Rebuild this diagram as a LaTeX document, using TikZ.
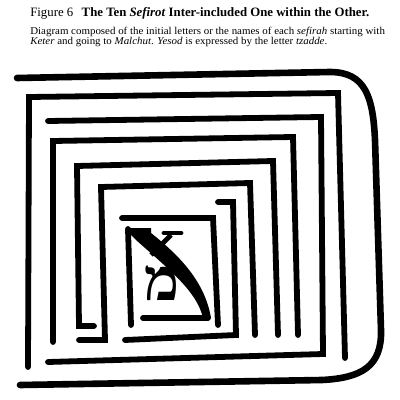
\documentclass[tikz,border=0pt]{standalone}
\usepackage{fontspec}
\setmainfont{Liberation Serif}
\newfontfamily\hebfont[Script=Hebrew]{Liberation Serif}
\tikzset{
  stroke/.style={line width=0.145cm, line cap=round, line join=miter},
  outerstroke/.style={line width=0.165cm, line cap=round, line join=round},
  captext/.style={anchor=base west, inner sep=0pt, font=\fontsize{7.4pt}{8pt}\selectfont},
}
\begin{document}
\begin{tikzpicture}[x=0.025cm,y=-0.025cm]
\useasboundingbox (0,0) rectangle (400,400);
\fill[white] (0,0) rectangle (400,400);

% texts
\node[anchor=base west, inner sep=0pt, font=\fontsize{9.1pt}{10pt}\selectfont] (title) at (30,17)
  {Figure 6\hspace{6pt}\textbf{The Ten \textit{Sefirot} Inter-included One within the Other.}};
\node[captext] (cap1) at (30,35)
  {\scalebox{1.05}[1]{Diagram composed of the initial letters or the names of each \textit{sefirah} starting with}};
\node[captext] (cap2) at (30,45)
  {\scalebox{1.05}[1]{\textit{Keter} and going to \textit{Malchut}. \textit{Yesod} is expressed by the letter \textit{tzadde}.}};

% Keter (kaf)
\draw[outerstroke] (17,78) -- (330,72) .. controls (366,72) and (373,98) .. (375,140)
  -- (381,330) .. controls (382,366) and (362,378) .. (322,380) -- (20,385);
% Chochmah (chet)
\draw[stroke] (28,367) -- (29,97) -- (338,93) -- (345,358);
% Binah (bet)
\draw[stroke] (48,121) -- (321,117) -- (323,354) -- (48,362);
% Chesed (chet)
\draw[stroke] (53,342) -- (53,141) -- (293,137) -- (298,335);
% Gevurah (gimel)
\draw[stroke] (94,326) -- (79,326) -- (77,166) -- (273,161) -- (278,335);
% Tiferet (tav)
\draw[stroke] (79,340) -- (105,340) -- (101,187) -- (250,183) -- (255,335);
% Netzach (nun)
\draw[stroke] (218,202) -- (233,202) -- (236,335) -- (125,340);
% Hod (he)
\draw[stroke] (122,218) -- (213,218) -- (218,325);
\draw[stroke] (128,229) -- (131,325);
% Yesod (tzadde)
\fill (130,228) -- (151,228) -- (151,233)
  .. controls (180,256) and (205,282) .. (211,318) -- (203,318)
  .. controls (197,292) and (172,272) .. (136,240) -- (130,234) -- cycle;
\draw[stroke] (143,318) -- (208,318);
\draw[line width=0.12cm] (151,255) -- (171,235);
\draw[line width=0.12cm, line cap=round] (164,233) -- (181,233);
% Malchut (mem)
\node[inner sep=0pt, font=\fontsize{42pt}{42pt}\selectfont\hebfont\bfseries] (mem) at (162,283) {מ};
\end{tikzpicture}
\end{document}
